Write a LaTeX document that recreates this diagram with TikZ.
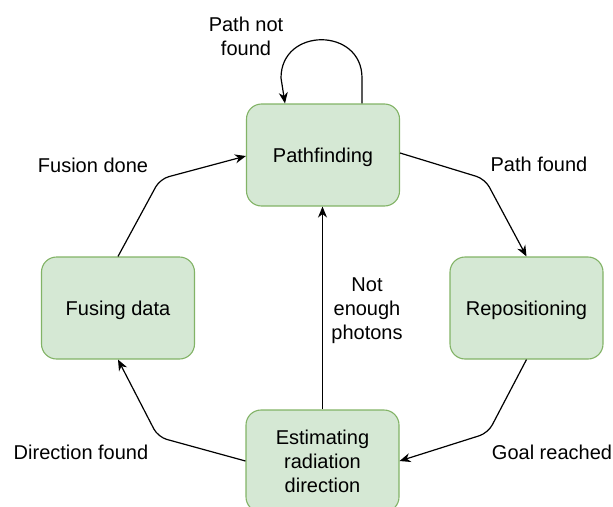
\documentclass[tikz,border=0pt]{standalone}
\usepackage{fontspec}
\setmainfont{Liberation Sans}
\usetikzlibrary{arrows.meta,calc}
\definecolor{boxfill}{HTML}{D5E8D4}
\definecolor{boxline}{HTML}{82B366}
\begin{document}
\begin{tikzpicture}[x=1pt,y=-1pt,
  state/.style={draw=boxline,fill=boxfill,line width=1.1pt,rounded corners=15pt,
    minimum width=153pt,minimum height=102pt,inner sep=0pt,align=center,
    text depth=0pt,font=\fontsize{20}{24}\selectfont},
  lbl/.style={align=center,inner sep=0pt,font=\fontsize{20}{24}\selectfont},
  edge/.style={line width=1.2pt,rounded corners=9pt,
    -{Stealth[length=11pt,width=9pt,inset=3.5pt]}}]
\useasboundingbox (0,0) rectangle (613,506);
\clip (0,0) rectangle (613,506);
\node[state] (P) at (323,155) {Pathfinding};
\node[state] (F) at (118,308) {Fusing data};
\node[state] (R) at (526.5,308) {Repositioning};
\node[state] (E) at (322.5,461) {Estimating\\radiation\\direction};
% edges
\draw[edge] ([yshift=2pt]P.east) -- (485,179) -- (R.north);
\draw[edge] (R.south) -- (488,433) -- (E.east);
\draw[edge] (E.west) -- (158,437) -- (F.south);
\draw[edge] (F.north) -- (160,179) -- ([yshift=-1pt]P.west);
\draw[edge] (E.north) -- (E.north |- P.south);
\draw[line width=1.2pt,-{Stealth[length=11pt,width=9pt,inset=3.5pt]}]
  ([xshift=39pt]P.north) -- (362,78) .. controls (362,27) and (281,27) .. (281,78) -- ([xshift=-38pt]P.north);
% labels
\node[lbl] (l1) at (246,36) {Path not\\found};
\node[lbl] (l2) at (539,164) {Path found};
\node[lbl] (l3) at (93,165) {Fusion done};
\node[lbl] (l4) at (367,311) {Not\\enough\\photons};
\node[lbl] (l5) at (552,452) {Goal reached};
\node[lbl] (l6) at (81,452) {Direction found};
\end{tikzpicture}
\end{document}
